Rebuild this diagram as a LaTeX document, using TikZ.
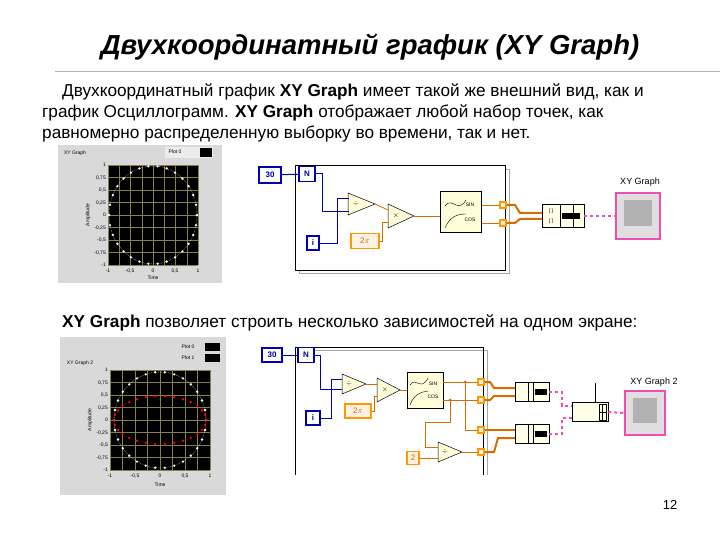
\documentclass[tikz,border=0pt]{standalone}
\usepackage{fontspec}
\setmainfont{Liberation Sans}
\begin{document}
\begin{tikzpicture}[x=1pt,y=-1pt,
 intb/.style={draw=blue!70!black,line width=1.6pt,fill=white,inner sep=1pt,font=\footnotesize\bfseries,text=blue!60!black},
 dblb/.style={draw=orange!80!yellow,line width=1.4pt,fill=orange!10,font=\footnotesize,text=orange!80!black,inner sep=1pt},
 func/.style={draw=black,fill=yellow!15!white,line width=0.5pt},
 bw/.style={blue!70!black,line width=1pt},
 ow/.style={orange!85!black,line width=0.8pt},
 owt/.style={orange!85!black,line width=2pt},
 pw/.style={magenta!70,line width=2pt,dashed},
 grd/.style={yellow!45!black,line width=0.3pt},
 body/.style={anchor=west,font=\fontsize{17.2}{20}\selectfont,inner sep=0pt},
 lbl/.style={font=\footnotesize,inner sep=0pt}]
\useasboundingbox (0,0) rectangle (720,540);
\fill[white] (0,0) rectangle (720,540);
\node[font=\fontsize{27.5}{30}\selectfont\bfseries\itshape] (title) at (370,47) {Двухкоординатный график (XY Graph)};
\draw[gray!60,line width=1pt] (55,72) -- (720,72);
\node[body] (t1) at (62,92) {Двухкоординатный график \textbf{XY Graph} имеет такой же внешний вид, как и};
\node[body] (t2) at (42,113) {график Осциллограмм. \textbf{XY Graph} отображает любой набор точек, как};
\node[body] (t3) at (42,134) {равномерно распределенную выборку во времени, так и нет.};
\node[body] (t4) at (62,323) {\textbf{XY Graph} позволяет строить несколько зависимостей на одном экране:};
\node[font=\fontsize{13}{15}\selectfont] (pg) at (670,505) {12};

\fill[gray!30] (58,145) rectangle (222,283);
\node[lbl,font=\tiny] (gl1) at (75,153) {XY Graph};
\fill[gray!15] (165,147) rectangle (213,158);
\node[lbl,font=\tiny] (pl1) at (175,152) {Plot 0};
\fill[black] (200,148) rectangle (212,157);
\fill[black] (108,165) rectangle (198,265);
\foreach \i in {0,...,8} {\draw[grd] (108+\i*11.25,165) -- (108+\i*11.25,265);
 \draw[grd] (108,165+\i*12.5) -- (198,165+\i*12.5);}
\foreach \a in {0,12,...,348} \fill[white] ({153+44*cos(\a)},{215+49*sin(\a)}) circle (1.3pt);
\draw[white,densely dotted] (153,215) ellipse (44 and 49);
\foreach \v/\y in {1/165,0{,}75/178,0{,}5/190,0{,}25/203,0/215,-0{,}25/228,-0{,}5/240,-0{,}75/253,-1/265}
 \node[lbl,font=\fontsize{5}{5}\selectfont,anchor=east] at (106,\y) {\v};
\foreach \v/\x in {-1/108,-0{,}5/130,0/153,0{,}5/175,1/198}
 \node[lbl,font=\fontsize{5}{5}\selectfont] at (\x,271) {\v};
\node[lbl,font=\fontsize{5}{5}\selectfont] at (153,278) {Time};
\node[lbl,font=\fontsize{5}{5}\selectfont,rotate=90] at (88,215) {Amplitude};

\node[intb,minimum width=22pt,minimum height=16pt] (c30) at (270,175) {30};
\draw[gray!70,line width=0.5pt] (299,169) rectangle (509,273);
\draw[black,line width=0.8pt,fill=white] (295,165) rectangle (505,270);
\node[intb,minimum width=16pt,minimum height=15pt] (N) at (307,174) {N};
\node[intb,minimum width=12pt,minimum height=14pt] (iI) at (313,243) {i};
\draw[bw] (c30) -- (N);
\node[dblb,minimum width=28pt,minimum height=15pt] (tp) at (365,241) {2$\pi$};
\draw[func] (348,193) -- (375,204) -- (348,215) -- cycle;
\node[lbl,font=\scriptsize\bfseries] (div) at (356,204) {$\div$};
\draw[func] (388,204) -- (414,216) -- (388,228) -- cycle;
\node[lbl,font=\scriptsize\bfseries] (mul) at (396,216) {$\times$};
\node[func,minimum width=41pt,minimum height=41pt] (sc) at (461,212) {};
\node[lbl,font=\tiny] at (470,205) {SIN};
\node[lbl,font=\tiny] at (470,220) {COS};
\draw[black,line width=0.4pt] (445,206) .. controls (452,196) and (458,214) .. (466,200);
\draw[black,line width=0.4pt] (445,228) .. controls (450,216) and (458,214) .. (466,214);
\node[dblb,minimum size=6pt,inner sep=0pt] (tn1) at (503,205) {};
\node[dblb,minimum size=6pt,inner sep=0pt] (tn2) at (503,223) {};
\draw[bw] (N.east) -- (322,174) -- (322,212) -- (349,212);
\draw[bw] (iI.east) -- (337,243) -- (337,199) -- (349,199);
\draw[ow] (375,204) -- (388,210);
\draw[ow] (tp.east) -- (382,241) -- (382,222) -- (388,222);
\draw[ow] (414,216) -- (440,216);
\draw[ow] (482,205) -- (tn1);
\draw[ow] (482,223) -- (tn2);
\node[func,minimum width=42pt,minimum height=23pt,fill=yellow!10] (bd1) at (563,216) {};
\node[lbl,font=\fontsize{5}{5}\selectfont] at (551,211) {[ ]};
\node[lbl,font=\fontsize{5}{5}\selectfont] at (551,221) {[ ]};
\draw (560,205) -- (560,228) (573,205) -- (573,228);
\fill[black] (562,213) rectangle (580,219);
\draw[owt] (tn1.east) -- (515,205) -- (520,213) -- (542,213);
\draw[owt] (tn2.east) -- (515,223) -- (520,219) -- (542,219);
\node[lbl,font=\small] (xyl1) at (640,182) {XY Graph};
\node[draw=magenta!70,line width=1.4pt,fill=gray!25,minimum width=44pt,minimum height=46pt] (ic1) at (638,216) {};
\fill[gray!60] (624,200) rectangle (652,226);
\draw[pw] (bd1.east) -- (ic1.west);

\fill[gray!30] (60,337) rectangle (226,495);
\node[lbl,font=\tiny] (gl2) at (80,363) {XY Graph 2};
\node[lbl,font=\tiny] (pl2) at (188,347) {Plot 0};
\node[lbl,font=\tiny] (pl3) at (188,358) {Plot 1};
\fill[black] (205,343) rectangle (220,351);
\fill[black] (205,354) rectangle (220,362);
\fill[black] (110,370) rectangle (210,470);
\foreach \i in {0,...,8} {\draw[grd] (110+\i*12.5,370) -- (110+\i*12.5,470);
 \draw[grd] (110,370+\i*12.5) -- (210,370+\i*12.5);}
\draw[white,densely dotted] (160,420) ellipse (46 and 48);
\foreach \a in {0,12,...,348} \fill[white] ({160+46*cos(\a)},{420+48*sin(\a)}) circle (1.3pt);
\draw[red,densely dotted] (160,420) ellipse (46 and 24);
\foreach \a in {0,12,...,348} \fill[red] ({160+46*cos(\a)},{420+24*sin(\a)}) circle (1.3pt);
\foreach \v/\y in {1/370,0{,}75/383,0{,}5/395,0{,}25/408,0/420,-0{,}25/433,-0{,}5/445,-0{,}75/458,-1/470}
 \node[lbl,font=\fontsize{5}{5}\selectfont,anchor=east] at (108,\y) {\v};
\foreach \v/\x in {-1/110,-0{,}5/135,0/160,0{,}5/185,1/210}
 \node[lbl,font=\fontsize{5}{5}\selectfont] at (\x,476) {\v};
\node[lbl,font=\fontsize{5}{5}\selectfont] at (160,485) {Time};
\node[lbl,font=\fontsize{5}{5}\selectfont,rotate=90] at (90,420) {Amplitude};

\node[intb,minimum width=20pt,minimum height=14pt] (d30) at (272,355) {30};
\draw[gray!70,line width=0.5pt] (298,350) -- (487,350) -- (487,475);
\draw[black,line width=0.8pt] (295,475) -- (295,347) -- (483,347) -- (483,475);
\node[intb,minimum width=16pt,minimum height=15pt] (N2) at (306,355) {N};
\node[intb,minimum width=14pt,minimum height=14pt] (i2) at (313,418) {i};
\draw[bw] (d30) -- (N2);
\node[dblb,minimum width=26pt,minimum height=14pt] (tp2) at (358,411) {2$\pi$};
\draw[func] (342,374) -- (366,384) -- (342,394) -- cycle;
\node[lbl,font=\scriptsize\bfseries] at (349,384) {$\div$};
\draw[func] (377,378) -- (400,390) -- (377,402) -- cycle;
\node[lbl,font=\scriptsize\bfseries] at (385,390) {$\times$};
\node[func,minimum width=36pt,minimum height=36pt] (sc2) at (425,390) {};
\node[lbl,font=\tiny] at (433,384) {SIN};
\node[lbl,font=\tiny] at (433,397) {COS};
\draw[black,line width=0.4pt] (410,385) .. controls (416,376) and (421,392) .. (428,378);
\draw[black,line width=0.4pt] (410,405) .. controls (414,394) and (421,392) .. (428,391);
\node[dblb,minimum width=12pt,minimum height=13pt,font=\footnotesize] (k2) at (413,458) {2};
\draw[func] (438,442) -- (462,452) -- (438,462) -- cycle;
\node[lbl,font=\scriptsize\bfseries] at (445,452) {$\div$};
\foreach \n/\y in {u1/382,u2/400,u3/430,u4/452} \node[dblb,minimum size=6pt,inner sep=0pt] (\n) at (481,\y) {};
\draw[bw] (N2.east) -- (320,355) -- (320,389) -- (342,389);
\draw[bw] (i2.east) -- (331,418) -- (331,379) -- (342,379);
\draw[ow] (366,384) -- (377,384);
\draw[ow] (tp2.east) -- (374,411) -- (374,396) -- (377,396);
\draw[ow] (400,390) -- (407,390);
\draw[ow] (443,382) -- (u1);
\draw[ow] (443,400) -- (u2);
\draw[ow] (465,382) -- (465,430) -- (u3);
\draw[ow] (450,400) -- (450,422) -- (425,422) -- (425,447) -- (438,447);
\fill[orange!85!black] (465,382) circle (1.5pt) (450,400) circle (1.5pt);
\draw[ow] (k2.east) -- (438,458);
\draw[ow] (462,452) -- (u4);
\node[func,minimum width=34pt,minimum height=19pt,fill=yellow!10] (bb1) at (532,392) {};
\node[func,minimum width=34pt,minimum height=19pt,fill=yellow!10] (bb2) at (532,434) {};
\foreach \b in {bb1,bb2} {\fill[black] ([xshift=3pt,yshift=-3pt]\b.center) rectangle ([xshift=15pt,yshift=3pt]\b.center);
 \draw ([xshift=-4pt]\b.north) -- ([xshift=-4pt]\b.south) ([xshift=1pt]\b.north) -- ([xshift=1pt]\b.south);}
\draw[owt] (u1.east) -- (490,382) -- (494,388) -- (bb1.west|-0,388);
\draw[owt] (u2.east) -- (490,400) -- (494,396) -- (bb1.west|-0,396);
\draw[owt] (u3.east) -- (bb2.west|-0,430);
\draw[owt] (u4.east) -- (494,452) -- (498,438) -- (bb2.west|-0,438);
\node[func,minimum width=36pt,minimum height=19pt,fill=yellow!10] (ba) at (590,412) {};
\draw (ba.north) ++(5,0) -- ++(0,-19) (599,404) rectangle (606,420) (599,412) -- (606,412) (602.5,404) -- (602.5,420);
\draw[pw] (bb1.east) -- (562,392) -- (562,406) -- (ba.west|-0,406);
\draw[pw] (bb2.east) -- (562,434) -- (562,418) -- (ba.west|-0,418);
\node[lbl,font=\small] (xyl2) at (654,382) {XY Graph 2};
\node[draw=magenta!70,line width=1.4pt,fill=gray!25,minimum width=40pt,minimum height=44pt] (ic2) at (645,413) {};
\fill[gray!60] (633,398) rectangle (657,423);
\draw[pw] (ba.east) -- (ic2.west);
\end{tikzpicture}
\end{document}
